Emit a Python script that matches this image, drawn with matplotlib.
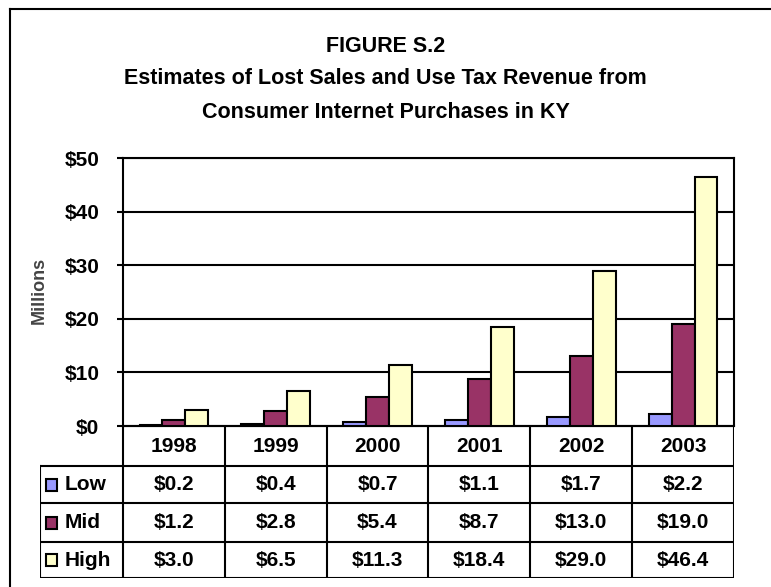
import matplotlib
matplotlib.use("Agg")
import matplotlib.pyplot as plt
import numpy as np

plt.rcParams['font.family'] = ['Liberation Sans', 'DejaVu Sans']
plt.rcParams['font.weight'] = 'bold'

years = ['1998', '1999', '2000', '2001', '2002', '2003']
series = ['Low', 'Mid', 'High']
low = [0.2, 0.4, 0.7, 1.1, 1.7, 2.2]
mid = [1.2, 2.8, 5.4, 8.7, 13.0, 19.0]
high = [3.0, 6.5, 11.3, 18.4, 29.0, 46.4]
colors = ['#9999FF', '#993366', '#FFFFCC']
yticks = [0, 10, 20, 30, 40, 50]

W, H = 771, 587
fig = plt.figure(figsize=(W / 100, H / 100), dpi=100)

def box(x0, y0, x1, y1):
    # pixel box (top-left origin) -> figure fraction
    return [x0 / W, 1 - y1 / H, (x1 - x0) / W, (y1 - y0) / H]

# outer frame (top and left edges only visible)
fig.add_artist(plt.Line2D([10 / W, 10 / W], [0, 1 - 9 / H], color='black', lw=1.5))
fig.add_artist(plt.Line2D([10 / W, 1], [1 - 9 / H, 1 - 9 / H], color='black', lw=1.5))

fig.text(0.5, 1 - 46 / H, 'FIGURE S.2', ha='center', va='center', fontsize=15.5, fontweight='bold')
fig.text(0.5, 1 - 79 / H, 'Estimates of Lost Sales and Use Tax Revenue from',
         ha='center', va='center', fontsize=15.5, fontweight='bold')
fig.text(0.5, 1 - 112 / H, 'Consumer Internet Purchases in KY',
         ha='center', va='center', fontsize=15.5, fontweight='bold')

# bar chart
ax = fig.add_axes(box(123, 158, 734, 426))
x = np.arange(len(years))
bw = 0.225
for i, vals in enumerate([low, mid, high]):
    ax.bar(x + (i - 1) * bw, vals, bw, color=colors[i], edgecolor='black', linewidth=1.5, zorder=3)
ax.set_xlim(-0.5, len(years) - 0.5)
ax.set_ylim(0, 50)
ax.set_yticks(yticks)
ax.set_yticklabels(['$%d' % v for v in yticks], fontsize=15, fontweight='bold')
ax.tick_params(axis='y', length=4, width=1.5, pad=13)
ax.set_xticks([])
ax.grid(axis='y', color='black', linewidth=1.5, zorder=0)
for s in ax.spines.values():
    s.set_linewidth(1.5)
fig.text(39 / W, 1 - 290 / H, 'Millions', rotation=90, ha='center', va='center',
         fontsize=13, fontweight='bold', color='#444444')

# data table under the chart
tab = fig.add_axes(box(40, 426, 734, 578))
lab_w = 83 / 102
tab.set_xlim(-0.5 - lab_w, len(years) - 0.5)
tab.set_ylim(578, 426)
tab.axis('off')
rows = [426, 466, 503, 542, 578]
lk = dict(color='black', lw=1.5, solid_capstyle='projecting')
# horizontal lines
tab.plot([-0.5, len(years) - 0.5], [rows[0], rows[0]], **lk)
for r in rows[1:]:
    tab.plot([-0.5 - lab_w, len(years) - 0.5], [r, r], **lk)
# vertical lines
tab.plot([-0.5 - lab_w, -0.5 - lab_w], [rows[1], rows[-1]], **lk)
for c in range(len(years) + 1):
    tab.plot([c - 0.5, c - 0.5], [rows[0], rows[-1]], **lk)

for j, yr in enumerate(years):
    tab.text(j, (rows[0] + rows[1]) / 2, yr, ha='center', va='center', fontsize=15, fontweight='bold')
for i, (name, vals) in enumerate(zip(series, [low, mid, high])):
    r = (rows[i + 1] + rows[i + 2]) / 2
    tab.add_patch(plt.Rectangle((-0.5 - lab_w + 0.06, r - 6), 0.11, 12,
                                facecolor=colors[i], edgecolor='black', lw=1.5))
    tab.text(-0.5 - lab_w + 0.24, r, name, ha='left', va='center', fontsize=15, fontweight='bold')
    for j, v in enumerate(vals):
        tab.text(j, r, '$%.1f' % v, ha='center', va='center', fontsize=15, fontweight='bold')

fig.savefig('out.png', dpi=100)
